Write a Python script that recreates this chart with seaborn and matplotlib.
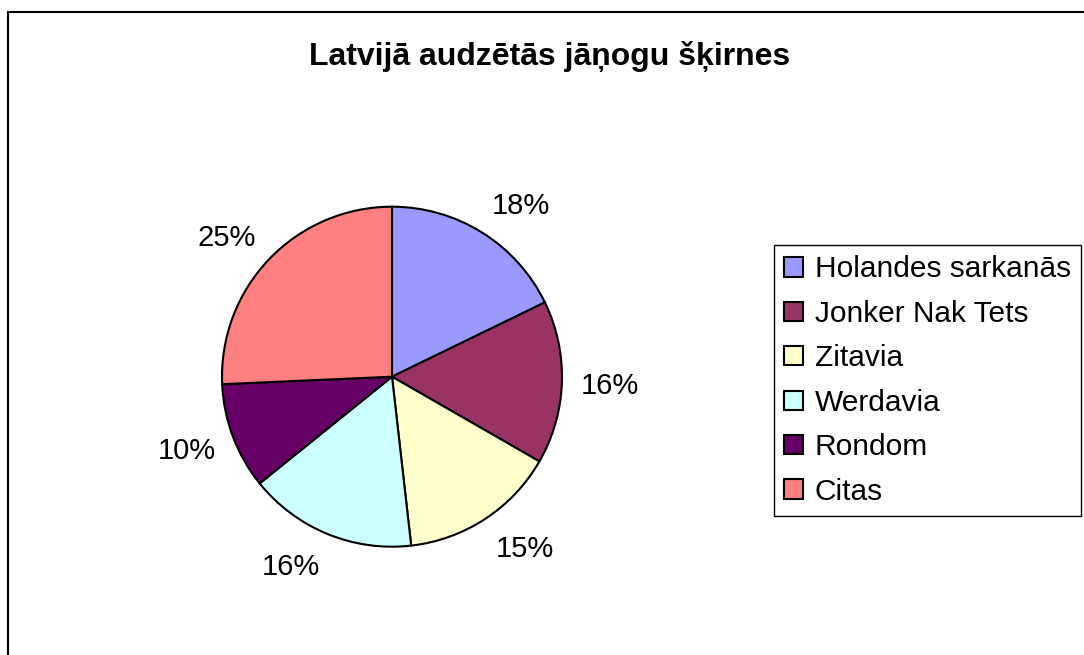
import numpy as np
import matplotlib
matplotlib.use("Agg")
import matplotlib.pyplot as plt
import seaborn as sns
from matplotlib.patches import Rectangle

# --- Data (shares measured from the slice angles, labels as printed) ---
varieties = ["Holandes sarkanās", "Jonker Nak Tets", "Zitavia", "Werdavia", "Rondom", "Citas"]
shares = [17.8, 15.5, 14.9, 16.0, 10.1, 25.7]
pct_labels = ["18%", "16%", "15%", "16%", "10%", "25%"]
slice_colors = ["#9999FF", "#993366", "#FFFFCC", "#CCFFFF", "#660066", "#FF8080"]
title = "Latvijā audzētās jāņogu šķirnes"

sns.set_style("white")
plt.rcParams['font.family'] = ['Liberation Sans', 'DejaVu Sans']
plt.rcParams['text.color'] = 'black'

W, H = 1084, 655
fig = plt.figure(figsize=(W / 100, H / 100), dpi=100)
fig.patch.set_facecolor("white")

# pie placed so its centre / radius match the reference (pixels)
cx, cy, r = 392, 376.7, 170
ax = fig.add_axes([(cx - r) / W, (H - cy - r) / H, 2 * r / W, 2 * r / H])

wedges, _ = ax.pie(
    shares,
    colors=slice_colors,
    startangle=90,
    counterclock=False,
    wedgeprops=dict(edgecolor="black", linewidth=1.5),
)
ax.set_xlim(-1, 1)
ax.set_ylim(-1, 1)
ax.axis("off")

# Excel-like outside labels: nearest edge of the label sits just off the rim
label_r = 1.11
for w, lab in zip(wedges, pct_labels):
    theta = np.deg2rad((w.theta1 + w.theta2) / 2)
    c, s = np.cos(theta), np.sin(theta)
    ax.annotate(lab, xy=(label_r * c, label_r * s), xycoords="data",
                xytext=(0, 15 * s - 2), textcoords="offset pixels",
                ha="left" if c > 0 else "right", va="center",
                fontsize=21, color="black", annotation_clip=False)

fig.text(0.5 * (310 + 790) / W, 1 - 57 / H, title, ha="center", va="center",
         fontsize=23, fontweight="bold", color="black")

leg = fig.legend(
    wedges, varieties,
    loc="upper left",
    bbox_to_anchor=(774 / W, 1 - 245 / H),
    bbox_transform=fig.transFigure,
    borderaxespad=0,
    fontsize=21.5,
    frameon=True,
    fancybox=False,
    framealpha=1,
    edgecolor="black",
    handlelength=0.62,
    handleheight=0.62,
    handletextpad=0.4,
    borderpad=0.35,
    labelspacing=0.55,
)
leg.get_frame().set_linewidth(1)
for t in leg.get_texts():
    t.set_color("black")
for h in leg.legend_handles:
    h.set_linewidth(1.5)

# chart-area border (runs off the right and bottom edges like the source)
fig.add_artist(Rectangle((8 / W, -0.1), 1.2, 1.1 - 12 / H, transform=fig.transFigure,
                         fill=False, edgecolor="black", linewidth=1.5))

fig.savefig("out.png", dpi=100)
